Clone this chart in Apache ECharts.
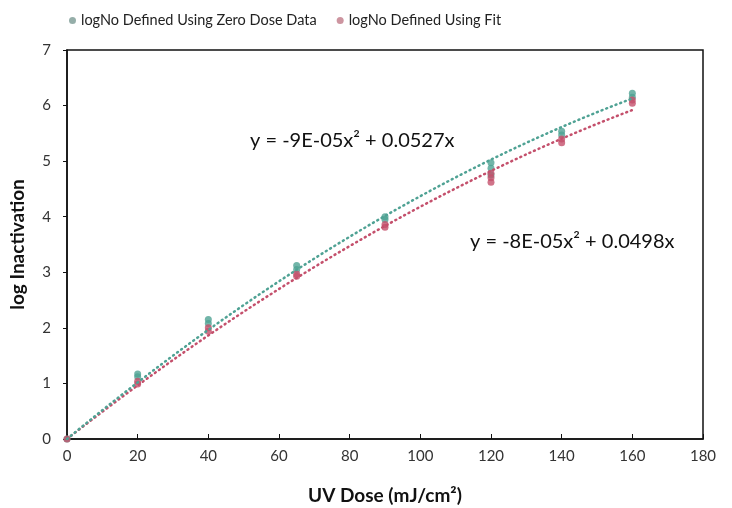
<!DOCTYPE html>
<html>
<head>
<meta charset="utf-8">
<script src="https://cdn.jsdelivr.net/npm/echarts@6/dist/echarts.min.js"></script>
<style>
  html, body { margin: 0; padding: 0; background: #fff; }
  #chart { width: 732px; height: 508px; }
</style>
</head>
<body>
<div id="chart"></div>
<script>
// Log inactivation vs UV dose, two ways of defining logNo
var zeroDoseX = [0, 20, 20, 40, 40, 65, 65, 90, 90, 120, 120, 120, 140, 140, 160, 160];
var zeroDoseY = [0, 1.17, 1.12, 2.15, 2.08, 3.12, 3.05, 4.0, 3.95, 4.97, 4.87, 4.75, 5.54, 5.47, 6.22, 6.15];

var fitX = [0, 20, 20, 40, 40, 65, 65, 90, 90, 120, 120, 120, 140, 140, 160, 160];
var fitY = [0, 1.04, 0.99, 2.0, 1.94, 2.97, 2.93, 3.86, 3.81, 4.78, 4.7, 4.62, 5.4, 5.33, 6.1, 6.04];

// Quadratic trendlines (no intercept), coefficients as printed on the chart
var zeroDoseTrend = { a: -9e-5, b: 0.0527, label: 'y = -9E-05x\u00b2 + 0.0527x' };
var fitTrend = { a: -8e-5, b: 0.0498, label: 'y = -8E-05x\u00b2 + 0.0498x' };
var trendMaxX = 160;

var xTicks = [0, 20, 40, 60, 80, 100, 120, 140, 160, 180];
var yTicks = [0, 1, 2, 3, 4, 5, 6, 7];

var seriesNames = ['logNo Defined Using Zero Dose Data', 'logNo Defined Using Fit'];
var green = '#4fa294';
var red = '#c4506c';

function pairs(xs, ys) {
  return xs.map(function (x, i) { return [x, ys[i]]; });
}
function trendPoints(t) {
  var pts = [];
  for (var x = 0; x <= trendMaxX; x += 2) pts.push([x, t.a * x * x + t.b * x]);
  return pts;
}

var font = 'Lato, "Open Sans", sans-serif';
var chart = echarts.init(document.getElementById('chart'));
chart.setOption({
  animation: false,
  textStyle: { fontFamily: font },
  grid: {
    left: 67, right: 29, top: 50, bottom: 69, outerBoundsMode: 'none',
    show: true, borderColor: '#111', borderWidth: 1.5
  },
  legend: {
    top: 8, left: 64, itemGap: 20, itemWidth: 7, itemHeight: 7,
    data: [
      { name: seriesNames[0], icon: 'circle', itemStyle: { color: '#7a9a94' } },
      { name: seriesNames[1], icon: 'circle', itemStyle: { color: '#c07a88' } }
    ],
    textStyle: { fontFamily: font, fontSize: 14.5, color: '#222' }
  },
  xAxis: {
    type: 'value', min: xTicks[0], max: xTicks[xTicks.length - 1], interval: 20,
    name: 'UV Dose (mJ/cm\u00b2)', nameLocation: 'middle', nameGap: 47,
    nameTextStyle: { fontFamily: font, fontWeight: 'bold', fontSize: 19, color: '#111' },
    axisLine: { lineStyle: { color: '#111', width: 1.5 } },
    axisTick: { inside: true, length: 5, lineStyle: { color: '#111' } },
    axisLabel: { fontSize: 15, color: '#333', margin: 10 },
    splitLine: { show: false }
  },
  yAxis: {
    type: 'value', min: yTicks[0], max: yTicks[yTicks.length - 1], interval: 1,
    name: 'log Inactivation', nameLocation: 'middle', nameGap: 40,
    nameTextStyle: { fontFamily: font, fontWeight: 'bold', fontSize: 19, color: '#111' },
    axisLine: { lineStyle: { color: '#111', width: 1.5 } },
    axisTick: { length: 4, lineStyle: { color: '#111' } },
    axisLabel: { fontSize: 15, color: '#333', margin: 16 },
    splitLine: { show: false }
  },
  series: [
    {
      name: seriesNames[1] + ' trend', type: 'line', data: trendPoints(fitTrend),
      symbol: 'none', silent: true, smooth: false,
      lineStyle: { color: red, width: 2.5, type: [1, 4], cap: 'round' }
    },
    {
      name: seriesNames[0] + ' trend', type: 'line', data: trendPoints(zeroDoseTrend),
      symbol: 'none', silent: true, smooth: false,
      lineStyle: { color: green, width: 2.5, type: [1, 4], cap: 'round' }
    },
    {
      name: seriesNames[0], type: 'scatter', data: pairs(zeroDoseX, zeroDoseY),
      symbol: 'circle', symbolSize: 7, itemStyle: { color: green }
    },
    {
      name: seriesNames[1], type: 'scatter', data: pairs(fitX, fitY),
      symbol: 'circle', symbolSize: 7, itemStyle: { color: red }
    }
  ],
  graphic: [
    { type: 'text', left: 250, top: 131, style: { text: zeroDoseTrend.label, font: '20px ' + font, fill: '#111' } },
    { type: 'text', left: 470, top: 232, style: { text: fitTrend.label, font: '20px ' + font, fill: '#111' } }
  ]
});
</script>
</body>
</html>
